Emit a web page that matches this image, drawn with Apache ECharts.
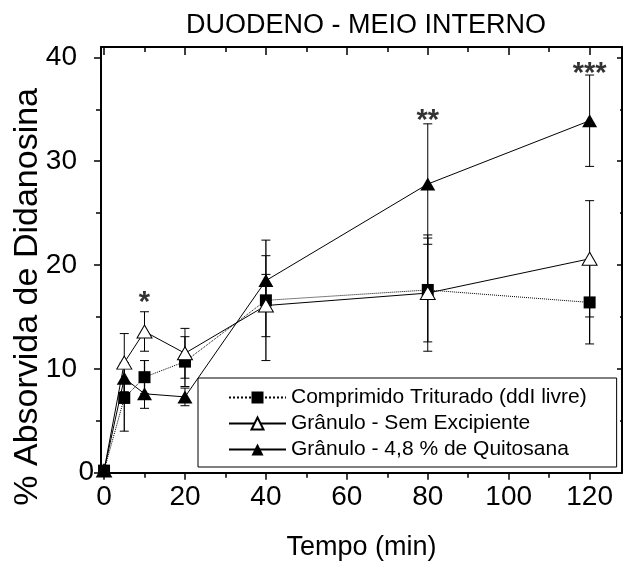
<!DOCTYPE html>
<html><head><meta charset="utf-8">
<script src="https://cdn.jsdelivr.net/npm/echarts@6/dist/echarts.min.js"></script>
<style>html,body{margin:0;padding:0;background:#fff}#c{width:623px;height:567px}</style>
</head><body><div id="c"></div>
<script>
const times = [0, 5, 10, 20, 40, 80, 120];
const comprimido = [0.2, 7.2, 9.2, 10.7, 16.6, 17.6, 16.4];
const comprimidoErr = [0, 3.2, 1.6, 2.4, 5.8, 5.0, 4.0];
const granuloSem = [0.2, 10.6, 13.6, 11.5, 16.1, 17.3, 20.6];
const granuloSemErr = [0, 2.8, 1.9, 2.4, 3.0, 5.6, 5.6];
const granuloQuit = [0.2, 9.1, 7.6, 7.3, 18.5, 27.8, 33.9];
const granuloQuitErr = [0, 1.5, 1.4, 0.85, 2.4, 5.8, 4.4];
const starTimes = [10, 80, 120];
const starLabels = ['*', '**', '***'];
const starValues = [16.3, 33.9, 38.4];
const xMajorTicks = [0, 20, 40, 60, 80, 100, 120];
const xMinorTicks = [10, 30, 50, 70, 90, 110];
const yMajorTicks = [0, 10, 20, 30, 40];
const yMinorTicks = [5, 15, 25, 35];
const seriesNames = ['Comprimido Triturado (ddI livre)', 'Grânulo - Sem Excipiente', 'Grânulo - 4,8 % de Quitosana'];

const font = '"Liberation Sans", Arial, sans-serif';
const X_MIN = -0.75, X_MAX = 128, Y_MIN = 0, Y_MAX = 41;

function xAx(pos, ticks, len, inside, showLine, labels, extra) {
  return Object.assign({
    type: 'value', position: pos, min: X_MIN, max: X_MAX,
    axisLine: { show: showLine, onZero: false, lineStyle: { color: '#000', width: 2 } },
    axisTick: { show: true, customValues: ticks, length: len, inside: inside, lineStyle: { color: '#000', width: 1.5 } },
    axisLabel: labels ? { show: true, customValues: ticks, fontSize: 28, color: '#000', fontFamily: font, margin: 11 } : { show: false },
    splitLine: { show: false }
  }, extra || {});
}
function yAx(pos, ticks, len, inside, showLine, labels, extra) {
  return Object.assign({
    type: 'value', position: pos, min: Y_MIN, max: Y_MAX,
    axisLine: { show: showLine, onZero: false, lineStyle: { color: '#000', width: 2 } },
    axisTick: { show: true, customValues: ticks, length: len, inside: inside, lineStyle: { color: '#000', width: 1.5 } },
    axisLabel: labels ? {
      show: true, customValues: ticks, fontSize: 28, color: '#000', fontFamily: font, margin: 7,
      formatter: v => v === 0 ? '{a|0}' : '{b|' + v + '}',
      rich: { a: { fontSize: 28, fontFamily: font, color: '#000' }, b: { fontSize: 28, fontFamily: font, color: '#000', padding: [0, 17, 0, 0] } }
    } : { show: false },
    splitLine: { show: false }
  }, extra || {});
}

function errSeries(vals, errs, width) {
  const data = [];
  times.forEach((t, i) => { if (errs[i] > 0) data.push([t, vals[i] - errs[i], vals[i] + errs[i]]); });
  return {
    type: 'custom', xAxisIndex: 0, yAxisIndex: 0, z: 1, silent: true,
    encode: { x: 0, y: [1, 2] },
    data: data,
    renderItem(params, api) {
      const lo = api.coord([api.value(0), api.value(1)]);
      const hi = api.coord([api.value(0), api.value(2)]);
      const hw = 4.5;
      return { type: 'group', children: [
        { type: 'line', shape: { x1: lo[0], y1: lo[1], x2: hi[0], y2: hi[1] }, style: { stroke: '#000', lineWidth: width } },
        { type: 'line', shape: { x1: lo[0] - hw, y1: lo[1], x2: lo[0] + hw, y2: lo[1] }, style: { stroke: '#000', lineWidth: 1 } },
        { type: 'line', shape: { x1: hi[0] - hw, y1: hi[1], x2: hi[0] + hw, y2: hi[1] }, style: { stroke: '#000', lineWidth: 1 } }
      ] };
    }
  };
}

const chart = echarts.init(document.getElementById('c'), null, { renderer: 'canvas' });
chart.setOption({
  animation: false,
  backgroundColor: '#fff',
  title: {
    text: 'DUODENO - MEIO INTERNO', left: 186, top: 12, padding: 0,
    textStyle: { fontSize: 27, fontWeight: 'normal', color: '#000', fontFamily: font }
  },
  grid: { left: 101, right: 1, top: 47, bottom: 94.3, outerBoundsMode: 'none', containLabel: false },
  xAxis: [
    xAx('bottom', xMajorTicks, 7, false, true, true, {
      name: 'Tempo (min)', nameLocation: 'middle', nameGap: 61, nameMoveOverlap: false,
      nameTextStyle: { fontSize: 27, color: '#000', fontFamily: font }
    }),
    xAx('bottom', xMinorTicks, 5, false, false, false),
    xAx('top', xMajorTicks, 8, true, true, false),
    xAx('top', xMinorTicks, 5, true, false, false)
  ],
  yAxis: [
    yAx('left', yMajorTicks, 7, false, true, true, {
      name: '% Absorvida de Didanosina', nameLocation: 'middle', nameGap: 56, nameRotate: 90, nameMoveOverlap: false,
      nameTextStyle: { fontSize: 34, color: '#000', fontFamily: font, padding: [0, 74, 0, 0] }
    }),
    yAx('left', yMinorTicks, 5, false, false, false),
    yAx('right', yMajorTicks, 5, true, true, false),
    yAx('right', yMinorTicks, 2, true, false, false)
  ],
  legend: {
    orient: 'vertical', left: 198, top: 378,
    data: seriesNames,
    itemWidth: 57, itemHeight: 15, itemGap: 5,
    padding: [9, 30, 7, 30],
    borderColor: '#000', borderWidth: 1, borderRadius: 0,
    backgroundColor: '#fff',
    selectedMode: false,
    textStyle: { fontSize: 21, lineHeight: 20, color: '#000', fontFamily: font }
  },
  series: [
    errSeries(comprimido, comprimidoErr, 1.3),
    errSeries(granuloSem, granuloSemErr, 1),
    errSeries(granuloQuit, granuloQuitErr, 1),
    {
      name: seriesNames[0], type: 'line', z: 3,
      data: times.map((t, i) => [t, comprimido[i]]),
      symbol: 'rect', symbolSize: 12, showAllSymbol: true,
      lineStyle: { color: '#000', width: 1, type: 'dotted' },
      itemStyle: { color: '#000' }
    },
    {
      name: seriesNames[1], type: 'line', z: 4,
      data: times.map((t, i) => [t, granuloSem[i]]),
      symbol: 'triangle', symbolSize: [15, 13], showAllSymbol: true,
      lineStyle: { color: '#000', width: 1 },
      itemStyle: { color: '#fff', borderColor: '#000', borderWidth: 1 }
    },
    {
      name: seriesNames[2], type: 'line', z: 5,
      data: times.map((t, i) => [t, granuloQuit[i]]),
      symbol: 'triangle', symbolSize: [15, 13], showAllSymbol: true,
      lineStyle: { color: '#000', width: 1 },
      itemStyle: { color: '#000' }
    },
    {
      type: 'scatter', z: 6, silent: true,
      data: starTimes.map((t, i) => ({ value: [t, starValues[i]], name: starLabels[i] })),
      symbolSize: 1, itemStyle: { color: 'rgba(0,0,0,0)' },
      label: { show: true, position: 'inside', formatter: '{b}', fontSize: 29, fontWeight: 'bold', color: '#000', fontFamily: font }
    }
  ]
});
</script>
</body></html>
